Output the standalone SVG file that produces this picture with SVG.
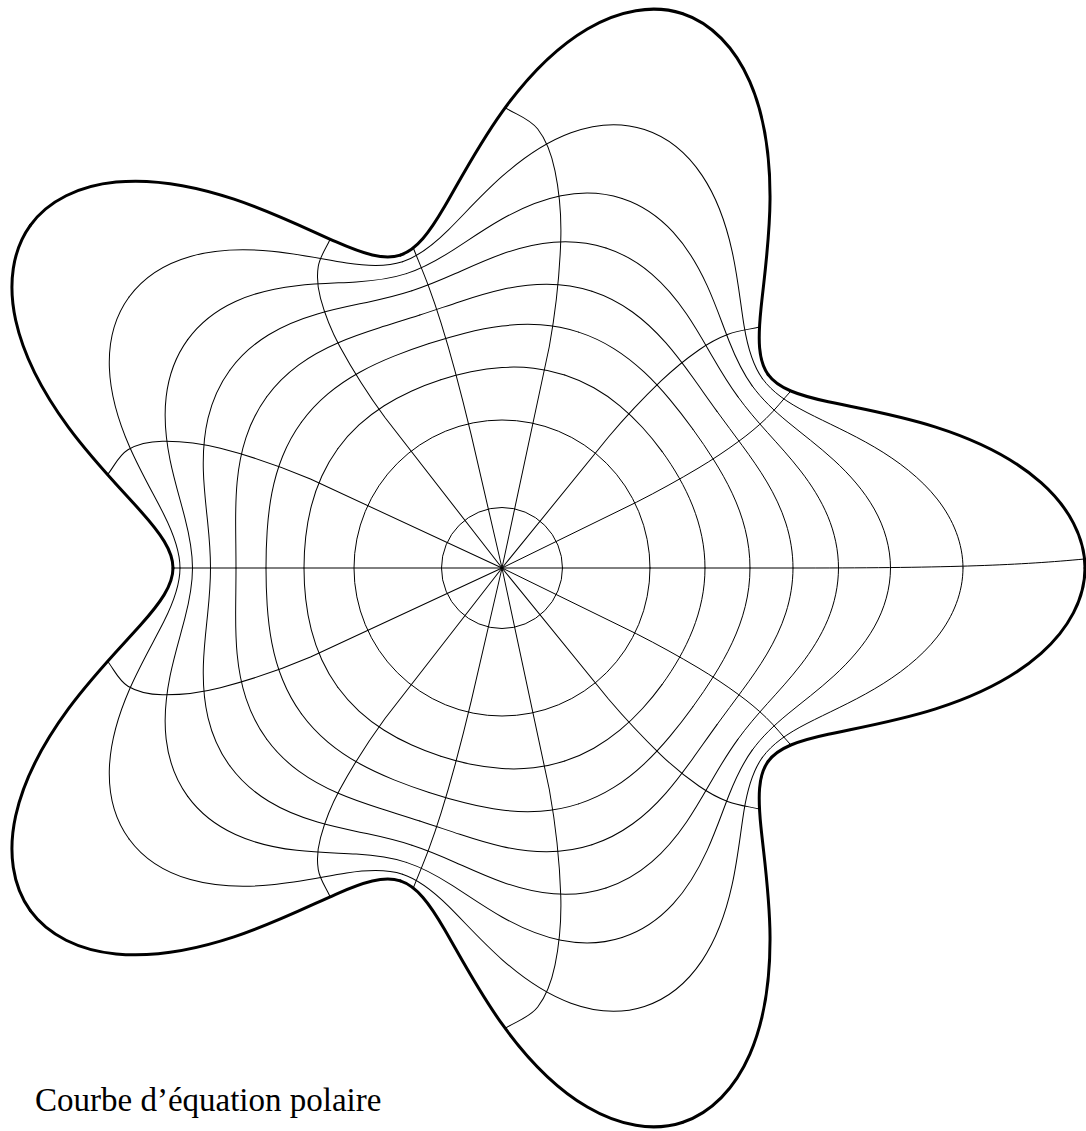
<svg xmlns="http://www.w3.org/2000/svg" width="1086" height="1131" viewBox="0 0 1086 1131">
<style>
.b{fill:none;stroke:#000;stroke-width:3;stroke-linecap:round;stroke-linejoin:round}
.m{fill:none;stroke:#000;stroke-width:1;stroke-linecap:round;stroke-linejoin:round}
text{font-family:"Liberation Serif","DejaVu Serif",serif;font-size:33px;fill:#000}
</style>
<rect width="1086" height="1131" fill="#fff"/>
<defs>
<g id="secL" class="m">
<path d="M203,0 C203,10.63 201.89,21.25 199.78,31.64 C197.66,42.03 194.56,52.18 190.69,61.96 C186.82,71.74 182.21,81.16 177.07,90.22 C171.94,99.28 166.28,107.99 160.19,116.38"/>
<path d="M248,0 C248,12.99 246.33,25.96 243.21,38.52 C240.10,51.08 235.57,63.22 230.16,74.78 C224.75,86.35 218.49,97.35 211.84,107.94 C205.20,118.53 198.19,128.72 190.93,138.72"/>
<path d="M291,0 C291,15.24 288.44,30.45 283.80,44.95 C279.16,59.45 272.49,73.21 264.87,86.06 C257.25,98.92 248.74,110.89 240.27,122.42 C231.80,133.95 223.39,145.08 215.20,156.35"/>
<path d="M336.5,0 C336.5,17.62 332.67,35.20 325.85,51.61 C319.03,68.02 309.32,83.22 298.63,97.03 C287.95,110.85 276.40,123.31 265.60,135.33 C254.80,147.35 244.80,158.99 235.83,171.34"/>
<path d="M388.5,0 C388.5,20.34 382.60,40.61 372.29,58.96 C361.98,77.31 347.40,93.66 331.92,107.85 C316.44,122.03 300.22,134.10 286.08,145.76 C271.93,157.42 259.92,168.81 250.39,181.92"/>
<path d="M461,0 C461,24.14 451.54,48.15 435.22,68.93 C418.90,89.71 395.98,107.11 372.34,120.98 C348.70,134.85 324.65,145.30 305.04,155.43 C285.44,165.56 270.41,175.63 260.50,189.27"/>
</g>
<path id="secB" class="b" d="M583,0 C583,30.53 566.78,60.83 539.08,85.38 C511.39,109.93 472.68,128.48 433.68,140.91 C394.68,153.35 355.94,159.84 326.29,166.25 C296.63,172.66 276.29,179.45 266.17,193.38"/>
<path id="rA" class="m" d="M0,0 L225.28,23.44 C261.92,28.48 297.43,36.00 329.60,45.32 C353.72,52.31 375.78,61.89 394.10,72.33 C408.75,80.68 421.34,90.96 428.50,101.66 C436.26,113.25 435.40,126.70 438.85,139.21"/>
<path id="rB" class="m" d="M0,0 L207.27,40.59 C240.42,48.22 271.14,57.92 298.19,68.68 C318.47,76.75 335.51,86.74 349.20,97.03 C360.15,105.26 368.13,114.71 372.10,124.22 C376.40,134.52 373.37,145.71 374.00,156.45"/>
<path id="rC" class="m" d="M0,0 L183.10,52.95 C212.19,62.29 238.42,72.89 261.70,84.04 C279.16,92.40 293.41,101.86 305.30,111.48 C314.81,119.18 321.58,127.42 325.90,135.98 C330.58,145.25 330.17,155.30 332.30,164.96"/>
<path id="rD" class="m" d="M0,0 L157.50,60.77 C182.70,71.14 205.60,82.05 226.70,93.32 C242.52,101.77 256.07,110.68 268.20,119.87 C277.90,127.22 285.72,134.83 292.20,142.91 C299.22,151.67 303.20,161.24 308.70,170.40"/>
<path id="rE" class="m" d="M0,0 L134.30,65.72 C156.09,76.81 176.52,88.10 196.00,99.69 C210.60,108.38 223.89,117.30 236.50,126.53 C246.59,133.91 255.73,141.47 264.10,149.54 C273.16,158.28 280.57,167.83 288.80,176.97"/>
<path id="rF" class="m" d="M0,0 L116.80,70.26 C136.10,82.05 155.02,93.97 173.60,106.07 C187.53,115.14 201.04,124.34 214.30,133.74 C224.91,141.26 235.18,148.92 245.20,156.84 C256.05,165.42 266.34,174.44 276.90,183.24"/>
</defs>
<g id="diagram" transform="translate(502,568) scale(1,-1)">
<g id="levels">
<circle class="m" r="60.5"/>
<circle class="m" r="148"/>
<use href="#secL"/>
<use href="#secL" transform="scale(1,-1)"/>
<use href="#secL" transform="rotate(72)"/>
<use href="#secL" transform="rotate(72) scale(1,-1)"/>
<use href="#secL" transform="rotate(144)"/>
<use href="#secL" transform="rotate(144) scale(1,-1)"/>
<use href="#secL" transform="rotate(216)"/>
<use href="#secL" transform="rotate(216) scale(1,-1)"/>
<use href="#secL" transform="rotate(288)"/>
<use href="#secL" transform="rotate(288) scale(1,-1)"/>
</g>
<g id="connectors">
<path class="m" d="M0,0 L300,0 C450,0 520,3 582.4,9"/>
<use href="#rE"/>
<use href="#rD" transform="rotate(72) scale(1,-1)"/>
<use href="#rA" transform="rotate(72)"/>
<use href="#rF" transform="rotate(72)"/>
<use href="#rC" transform="rotate(144) scale(1,-1)"/>
<use href="#rB" transform="rotate(144)"/>
<path class="m" d="M0,0 L-329,0"/>
<use href="#rB" transform="rotate(216) scale(1,-1)"/>
<use href="#rC" transform="rotate(216)"/>
<use href="#rF" transform="rotate(288) scale(1,-1)"/>
<use href="#rA" transform="rotate(288) scale(1,-1)"/>
<use href="#rD" transform="rotate(288)"/>
<use href="#rE" transform="scale(1,-1)"/>
</g>
<g id="outline">
<use href="#secB"/>
<use href="#secB" transform="scale(1,-1)"/>
<use href="#secB" transform="rotate(72)"/>
<use href="#secB" transform="rotate(72) scale(1,-1)"/>
<use href="#secB" transform="rotate(144)"/>
<use href="#secB" transform="rotate(144) scale(1,-1)"/>
<use href="#secB" transform="rotate(216)"/>
<use href="#secB" transform="rotate(216) scale(1,-1)"/>
<use href="#secB" transform="rotate(288)"/>
<use href="#secB" transform="rotate(288) scale(1,-1)"/>
</g>
</g>
<text id="caption" x="35" y="1111">Courbe d’équation polaire</text>
</svg>
